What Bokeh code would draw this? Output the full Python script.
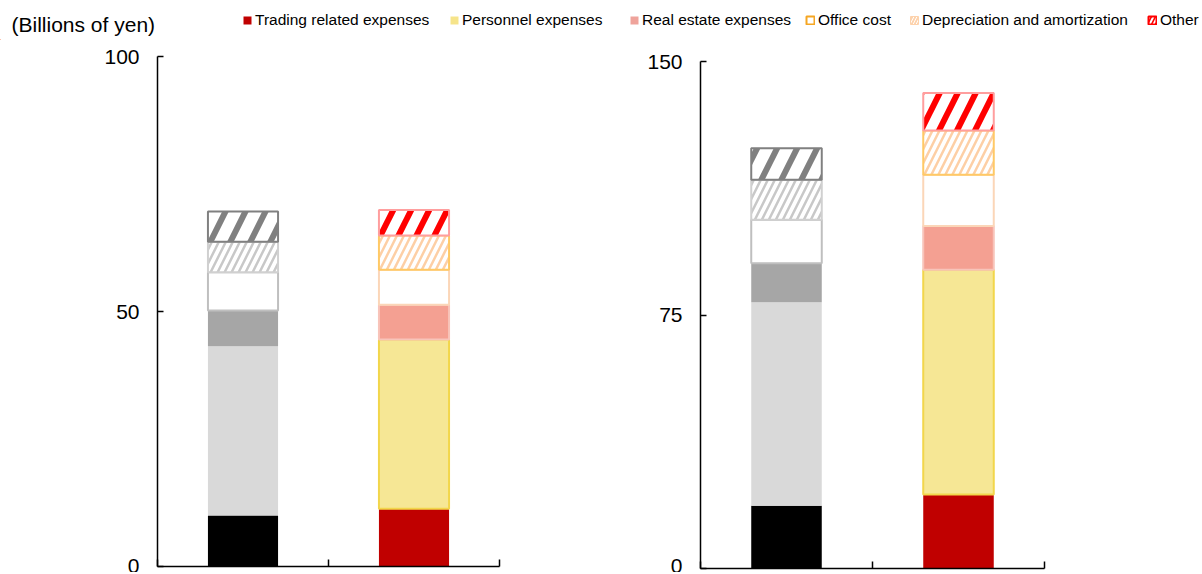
import numpy as np
from bokeh.plotting import figure
from bokeh.models import Range1d, FixedTicker, Legend, LegendItem, Label
from bokeh.layouts import column, row
from bokeh.embed import file_html
from bokeh.resources import INLINE

# ---------------- data ----------------
unit_label = "(Billions of yen)"
series = ["Trading related expenses", "Personnel expenses", "Real estate expenses",
          "Office cost", "Depreciation and amortization", "Other"]
periods = ["Previous", "Current"]          # bars of each panel (unlabelled in the chart)
left_prev = [10.0, 33.2, 7.0, 7.5, 6.0, 5.9]
left_curr = [11.3, 33.2, 6.8, 6.9, 6.7, 5.0]
right_prev = [18.6, 60.2, 11.5, 12.9, 11.8, 9.3]
right_curr = [21.9, 66.5, 12.9, 15.2, 13.1, 11.1]
left_ticks = [0, 50, 100]
right_ticks = [0, 75, 150]

FONT = "Liberation Sans"

# ---------------- styles: (grey variant, colour variant) per series ----------------
def hatch(col, scale, weight, line, lw=2):
    return dict(fill_color="white", hatch_pattern="/", hatch_color=col, hatch_scale=scale,
                hatch_weight=weight, line_color=line, line_width=lw)

STYLES = [
    (dict(fill_color="#000000", line_color=None), dict(fill_color="#C00000", line_color=None)),
    (dict(fill_color="#D9D9D9", line_color=None), dict(fill_color="#F6E795", line_color="#F2D64B", line_width=2)),
    (dict(fill_color="#A6A6A6", line_color=None), dict(fill_color="#F4A092", line_color="#F8C4BA", line_width=2)),
    (dict(fill_color="white", line_color="#BFBFBF", line_width=2), dict(fill_color="white", line_color="#FBD6B8", line_width=2)),
    (hatch("#C8C8C8", 14, 2.5, "#D0D0D0"), hatch("#FDCFA5", 14, 2.5, "#FFC966")),
    (hatch("#808080", 40, 6, "#808080"), hatch("#FF0000", 36, 6, "#FF9E9E")),
]
LEGEND_STYLES = [
    dict(fill_color="#C00000", line_color=None),
    dict(fill_color="#F6E48A", line_color=None),
    dict(fill_color="#EFA39B", line_color=None),
    dict(fill_color="white", line_color="#F5A623", line_width=2),
    dict(fill_color="#FDD2AC", hatch_pattern="/", hatch_color="white", hatch_scale=6, hatch_weight=1, line_color="#FDD2AC", line_width=1),
    dict(fill_color="#FF0000", hatch_pattern="/", hatch_color="white", hatch_scale=8, hatch_weight=2, line_color="#FF0000", line_width=2),
]
LEGEND_X = [242, 449, 629, 805, 909, 1147]

TOTAL_W = 1202
HEADER_H = 40
FIG_H = 532


def panel(values_by_period, ticks, width, b_left, b_right, b_top, b_bottom):
    n = len(periods)
    p = figure(width=width, height=FIG_H, x_range=Range1d(0, n), y_range=Range1d(ticks[0], ticks[-1]),
               output_backend="svg", toolbar_location=None,
               min_border_left=b_left, min_border_right=b_right, min_border_top=b_top,
               min_border_bottom=b_bottom)
    p.grid.visible = False
    p.outline_line_color = None
    p.background_fill_color = "white"
    for j, vals in enumerate(values_by_period):
        vals = np.asarray(vals, dtype=float)
        tops = np.cumsum(vals)
        bottoms = tops - vals
        for i in range(len(series)):
            p.vbar(x=[j + 0.5], bottom=[bottoms[i]], top=[tops[i]], width=0.41, **STYLES[i][0 if j == 0 else 1])
    xa = p.xaxis[0]
    xticks = list(range(n + 1))
    xa.ticker = FixedTicker(ticks=xticks)
    xa.major_label_overrides = {t: "" for t in xticks}
    xa.major_label_text_font_size = "1px"
    xa.major_label_standoff = 0
    xa.major_tick_in = 7
    xa.major_tick_out = 0
    xa.minor_tick_in = 0
    xa.minor_tick_out = 0
    xa.axis_line_width = 1.5
    xa.axis_line_color = "black"
    xa.major_tick_line_color = "black"
    xa.major_tick_line_width = 1.5
    ya = p.yaxis[0]
    ya.ticker = FixedTicker(ticks=ticks)
    ya.major_tick_in = 6
    ya.major_tick_out = 0
    ya.minor_tick_in = 0
    ya.minor_tick_out = 0
    ya.axis_line_width = 1.5
    ya.axis_line_color = "black"
    ya.major_tick_line_color = "black"
    ya.major_tick_line_width = 1.5
    ya.major_label_text_font = FONT
    ya.major_label_text_font_size = "21px"
    ya.major_label_text_color = "black"
    ya.major_label_standoff = 18
    return p


left = panel([left_prev, left_curr], left_ticks, 560, 157, 61, 16, 6)
right = panel([right_prev, right_curr], right_ticks, TOTAL_W - 560, 140, 158, 21, 4)

# ---------------- header with unit label and legend ----------------
header = figure(width=TOTAL_W, height=HEADER_H, x_range=Range1d(0, 1), y_range=Range1d(0, 1),
                x_axis_type=None, y_axis_type=None, output_backend="svg", toolbar_location=None,
                min_border=0)
header.grid.visible = False
header.outline_line_color = None
header.add_layout(Label(x=11, y=16, x_units="screen", y_units="screen", text=unit_label,
                        text_font=FONT, text_font_size="21px", text_color="black",
                        text_baseline="alphabetic"))
for i, name in enumerate(series):
    r = header.vbar(x=[-5], bottom=[-5], top=[-4], width=0.1, **LEGEND_STYLES[i])
    lg = Legend(items=[LegendItem(label=name, renderers=[r])], location=(LEGEND_X[i], 10),
                orientation="horizontal", padding=0, margin=0, spacing=0,
                glyph_width=10, glyph_height=10, label_standoff=3, label_height=20,
                label_text_font=FONT, label_text_font_size="15.5px", label_text_color="black",
                border_line_alpha=0, background_fill_alpha=0)
    header.add_layout(lg)

layout = column(header, row(column(left), column(right), spacing=0), spacing=0)
open("out.html", "w").write(file_html(layout, INLINE))
